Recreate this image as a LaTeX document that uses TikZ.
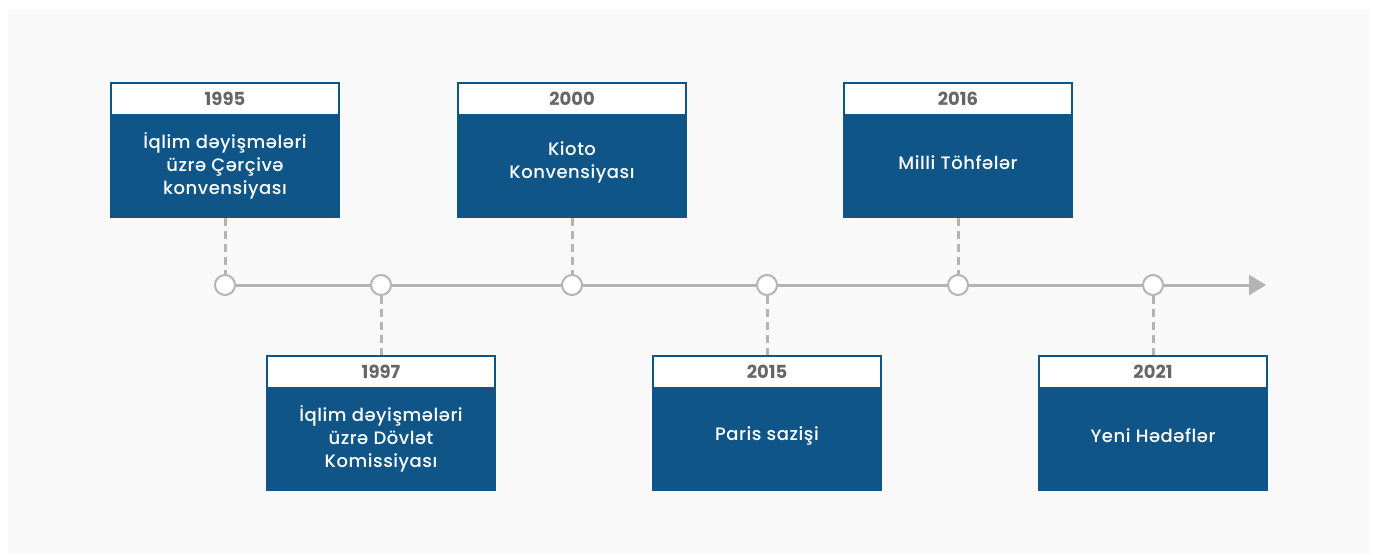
\documentclass[tikz,border=0pt]{standalone}
\usepackage{fontspec}
\setmainfont{Poppins}
\IfFontExistsTF{Poppins Medium}
    {\newfontfamily\mediumfont{Poppins Medium}[LetterSpace=3]}
    {\newfontfamily\mediumfont{Poppins}[FakeBold=0.4, LetterSpace=3]}
\usetikzlibrary{arrows.meta,positioning}

\definecolor{boxblue}{HTML}{0F5587}
\definecolor{linegray}{HTML}{B4B4B4}
\definecolor{yeargray}{HTML}{666666}
\definecolor{bggray}{HTML}{F9F9F9}

\begin{document}
\begin{tikzpicture}[%
        x = 1pt,
        y = -1pt,
        > = Triangle,
        yearbox/.style = {draw = boxblue, line width = 2pt, fill = white,
            minimum width = 228pt, minimum height = 32pt, inner sep = 0pt,
            text = yeargray, font = \bfseries\fontsize{18}{20}\selectfont},
        bodybox/.style = {fill = boxblue, minimum width = 230pt,
            minimum height = 102pt, inner sep = 0pt, outer sep = 0pt},
        bodytext/.style = {text = white, align = center, inner sep = 0pt,
            font = \mediumfont\fontsize{18}{23}\selectfont},
        dot/.style = {circle, draw = linegray, line width = 2pt, fill = white,
            minimum size = 20pt, inner sep = 0pt},
        axis/.style = {draw = linegray, line width = 3pt},
        guide/.style = {draw = linegray, line width = 3pt,
            dash pattern = on 8pt off 5pt}
    ]

        % Page size and the grey panel behind everything.
        \useasboundingbox (0, 0) rectangle (1375, 554);
        \fill[bggray] (8, 10) rectangle (1370, 554);

        % The dots on the time line.
        \foreach \n/\X in {1/225, 2/381, 3/572, 4/767, 5/958, 6/1153}{%
            \node[dot] (c\n) at (\X, 285) {};
        }

        % Join the dots, then run on to the arrow tip.
        \foreach \n[evaluate = {\n as \m using {int(\n + 1)}}] in {1, ..., 5}{%
            \draw[axis] (c\n) -- (c\m);
        }
        \coordinate (tip) at (1266, 285);
        \draw[axis, -{Triangle[length = 17pt, width = 20pt]}] (c6) -- (tip);

        % Boxes above the line (\S lifts the text a little).
        \foreach \n/\X/\Y/\S/\T in {%
            1/225/1995/1/{İqlim dəyişmələri\\üzrə Çərçivə\\konvensiyası},
            3/572/2000/5/{Kioto\\Konvensiyası},
            5/958/2016/4/{Milli Töhfələr}}{%
            \node[yearbox] (h\n) at (\X, 99) {\Y};
            \node[bodybox, below = 0pt of h\n] (b\n) {};
            \node[bodytext] (t\n) at ([yshift = \S pt]b\n.center) {\T};
            \draw[guide] (b\n) -- (c\n);
        }

        % Boxes below the line.
        \foreach \n/\X/\Y/\S/\T in {%
            2/381/1997/1/{İqlim dəyişmələri\\üzrə Dövlət\\Komissiyası},
            4/767/2015/4/{Paris sazişi},
            6/1153/2021/4/{Yeni Hədəflər}}{%
            \node[yearbox] (h\n) at (\X, 372) {\Y};
            \node[bodybox, below = 0pt of h\n] (b\n) {};
            \node[bodytext] (t\n) at ([yshift = \S pt]b\n.center) {\T};
            \draw[guide] (c\n) -- (h\n);
        }
    \end{tikzpicture}
\end{document}
